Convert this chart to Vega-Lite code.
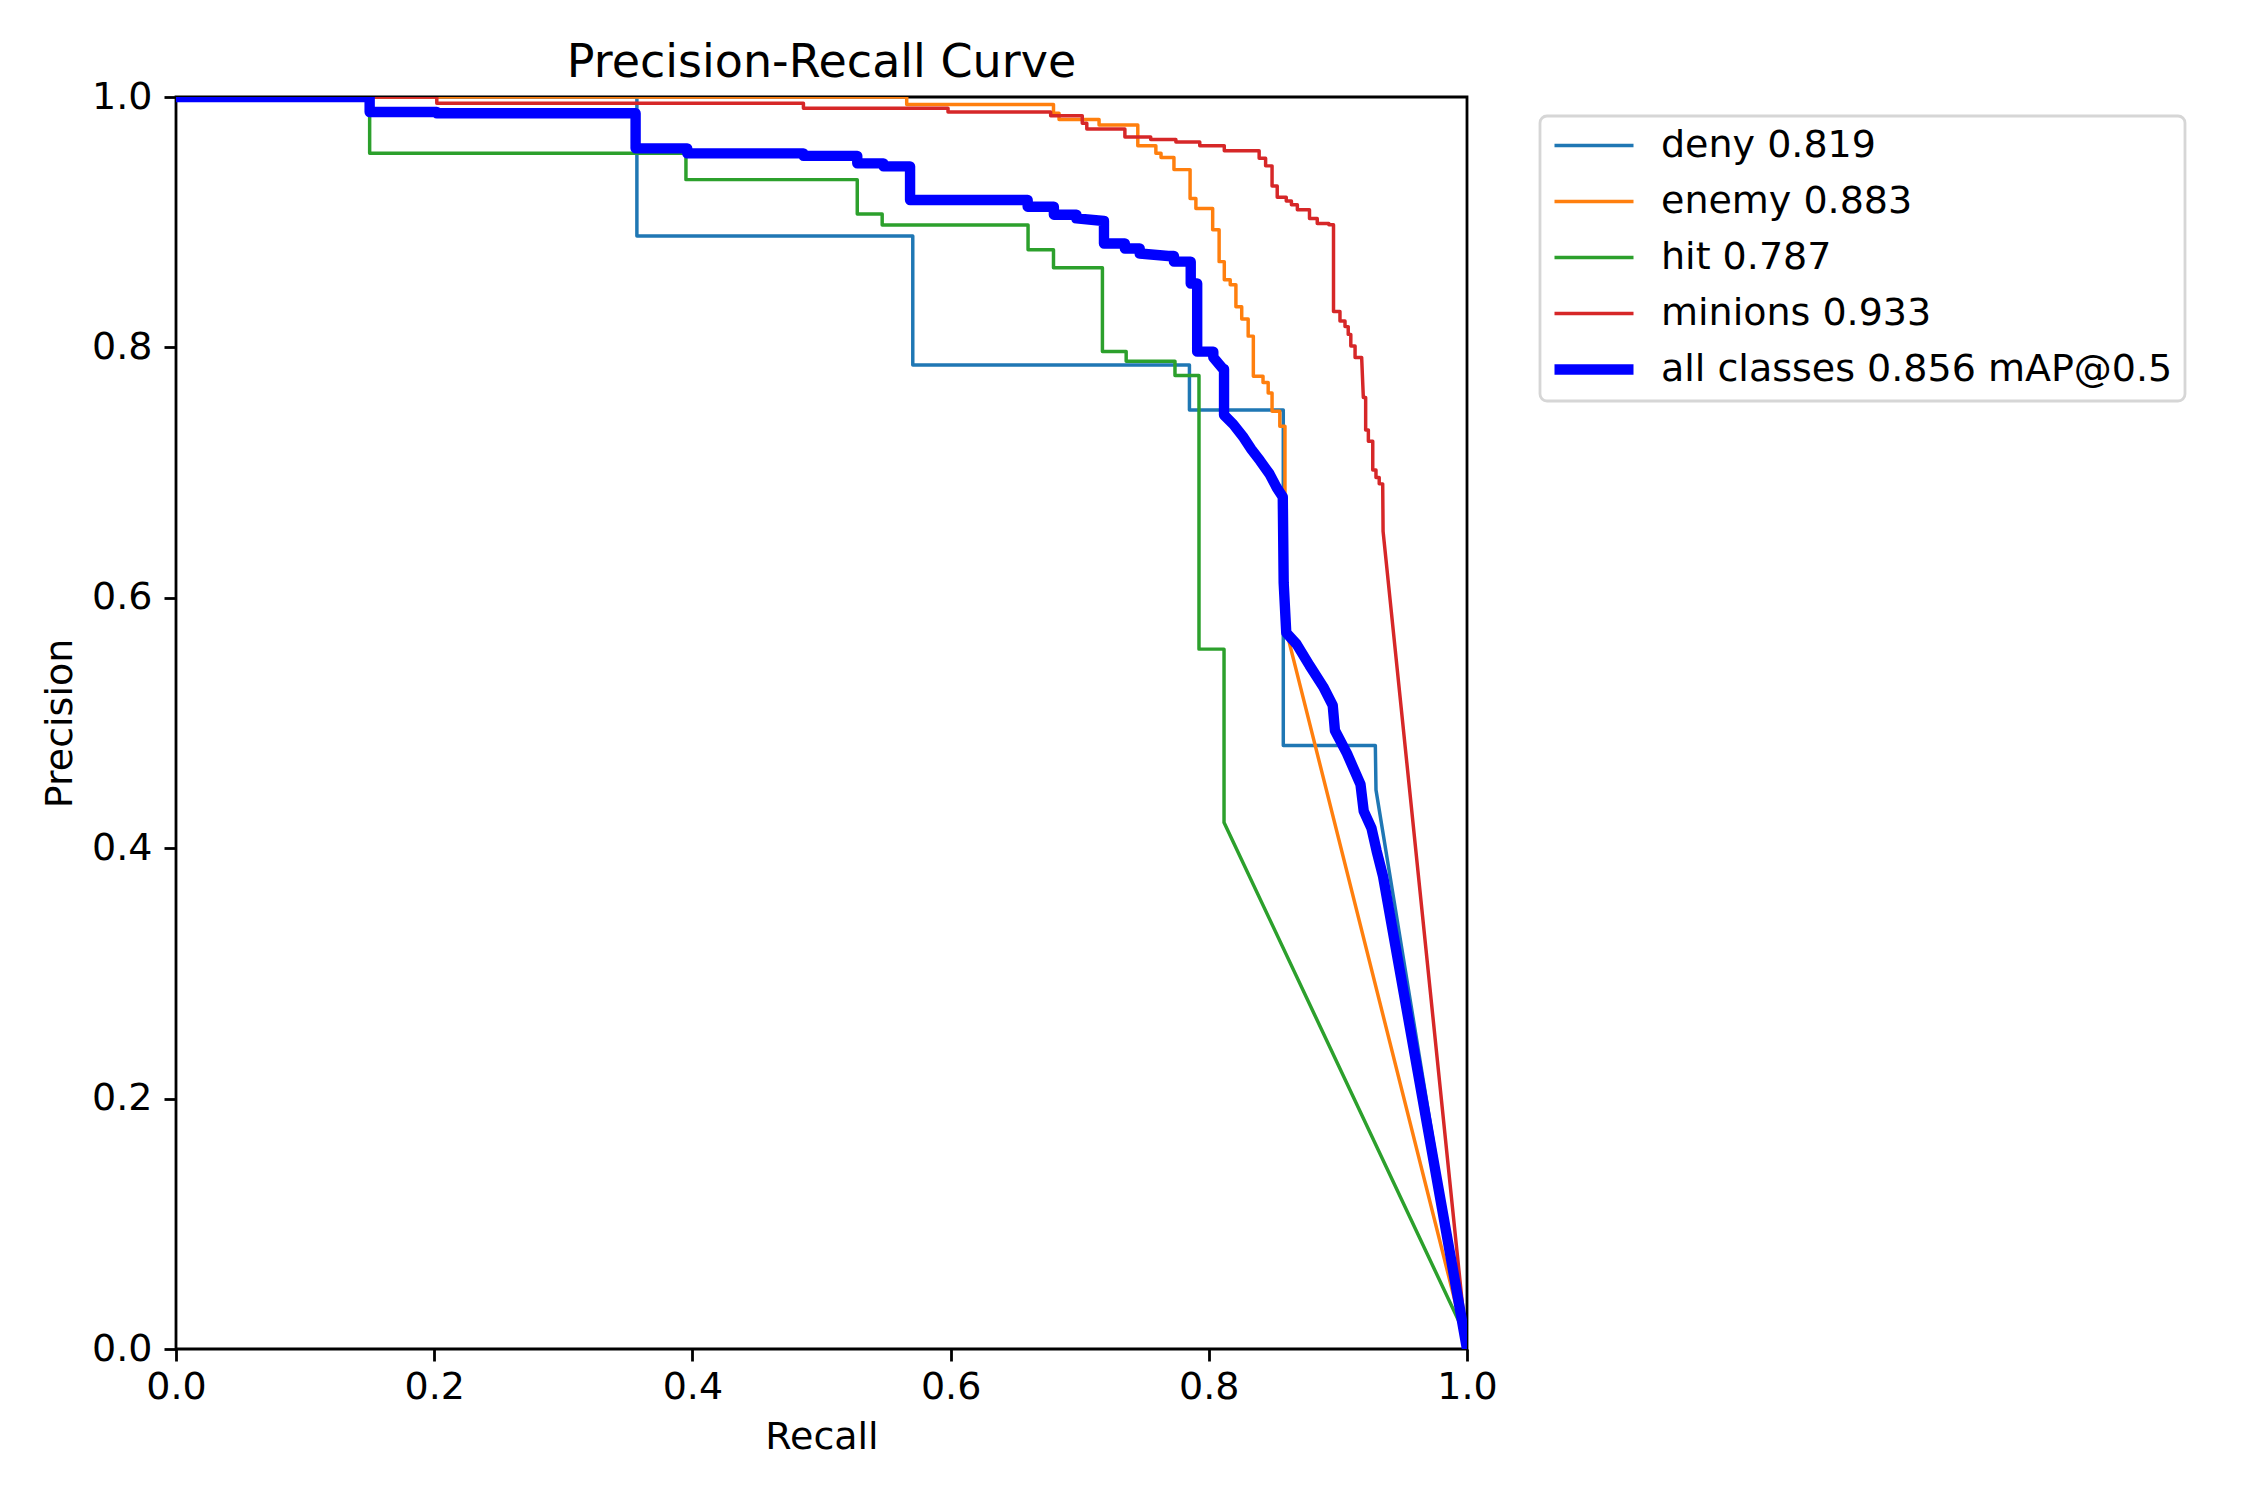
{
  "$schema": "https://vega.github.io/schema/vega-lite/v6.json",
  "width": 1291,
  "height": 1252,
  "autosize": {"type": "none"},
  "padding": {"left": 176, "top": 97, "right": 783, "bottom": 151},
  "background": "white",
  "title": {"text": "Precision-Recall Curve", "fontSize": 46, "font": "DejaVu Sans", "fontWeight": "normal", "color": "black", "anchor": "middle", "baseline": "alphabetic", "offset": 21, "dy": 66},
  "config": {
    "font": "DejaVu Sans",
    "view": {"stroke": "black", "strokeWidth": 2.8},
    "axis": {"grid": false, "domain": false, "tickColor": "black", "tickWidth": 2.8, "tickSize": 12, "labelFontSize": 38, "labelFont": "DejaVu Sans", "labelColor": "black", "labelPadding": 12, "titleFontSize": 38, "titleFont": "DejaVu Sans", "titleFontWeight": "normal", "titleColor": "black", "labelFlush": false, "labelOverlap": false}
  },
  "data": {"values": [
    {"c": "deny 0.819", "i": 0, "r": 0, "p": 1},
    {"c": "deny 0.819", "i": 1, "r": 0.357, "p": 1},
    {"c": "deny 0.819", "i": 2, "r": 0.357, "p": 0.889},
    {"c": "deny 0.819", "i": 3, "r": 0.5707, "p": 0.889},
    {"c": "deny 0.819", "i": 4, "r": 0.5707, "p": 0.786},
    {"c": "deny 0.819", "i": 5, "r": 0.785, "p": 0.786},
    {"c": "deny 0.819", "i": 6, "r": 0.785, "p": 0.75},
    {"c": "deny 0.819", "i": 7, "r": 0.8577, "p": 0.75},
    {"c": "deny 0.819", "i": 8, "r": 0.8577, "p": 0.482},
    {"c": "deny 0.819", "i": 9, "r": 0.929, "p": 0.482},
    {"c": "deny 0.819", "i": 10, "r": 0.9295, "p": 0.4466},
    {"c": "deny 0.819", "i": 11, "r": 1, "p": 0},

    {"c": "enemy 0.883", "i": 0, "r": 0, "p": 1},
    {"c": "enemy 0.883", "i": 1, "r": 0.566, "p": 1},
    {"c": "enemy 0.883", "i": 2, "r": 0.566, "p": 0.994},
    {"c": "enemy 0.883", "i": 3, "r": 0.6797, "p": 0.994},
    {"c": "enemy 0.883", "i": 4, "r": 0.6797, "p": 0.987},
    {"c": "enemy 0.883", "i": 5, "r": 0.684, "p": 0.987},
    {"c": "enemy 0.883", "i": 6, "r": 0.684, "p": 0.982},
    {"c": "enemy 0.883", "i": 7, "r": 0.715, "p": 0.982},
    {"c": "enemy 0.883", "i": 8, "r": 0.715, "p": 0.9776},
    {"c": "enemy 0.883", "i": 9, "r": 0.745, "p": 0.9776},
    {"c": "enemy 0.883", "i": 10, "r": 0.745, "p": 0.961},
    {"c": "enemy 0.883", "i": 11, "r": 0.759, "p": 0.961},
    {"c": "enemy 0.883", "i": 12, "r": 0.759, "p": 0.955},
    {"c": "enemy 0.883", "i": 13, "r": 0.763, "p": 0.955},
    {"c": "enemy 0.883", "i": 14, "r": 0.763, "p": 0.9516},
    {"c": "enemy 0.883", "i": 15, "r": 0.773, "p": 0.9516},
    {"c": "enemy 0.883", "i": 16, "r": 0.773, "p": 0.942},
    {"c": "enemy 0.883", "i": 17, "r": 0.7855, "p": 0.942},
    {"c": "enemy 0.883", "i": 18, "r": 0.7855, "p": 0.919},
    {"c": "enemy 0.883", "i": 19, "r": 0.79, "p": 0.919},
    {"c": "enemy 0.883", "i": 20, "r": 0.79, "p": 0.911},
    {"c": "enemy 0.883", "i": 21, "r": 0.803, "p": 0.911},
    {"c": "enemy 0.883", "i": 22, "r": 0.803, "p": 0.894},
    {"c": "enemy 0.883", "i": 23, "r": 0.808, "p": 0.894},
    {"c": "enemy 0.883", "i": 24, "r": 0.808, "p": 0.8685},
    {"c": "enemy 0.883", "i": 25, "r": 0.812, "p": 0.8685},
    {"c": "enemy 0.883", "i": 26, "r": 0.812, "p": 0.854},
    {"c": "enemy 0.883", "i": 27, "r": 0.8166, "p": 0.854},
    {"c": "enemy 0.883", "i": 28, "r": 0.8166, "p": 0.85},
    {"c": "enemy 0.883", "i": 29, "r": 0.821, "p": 0.85},
    {"c": "enemy 0.883", "i": 30, "r": 0.821, "p": 0.8325},
    {"c": "enemy 0.883", "i": 31, "r": 0.8255, "p": 0.8325},
    {"c": "enemy 0.883", "i": 32, "r": 0.8255, "p": 0.8227},
    {"c": "enemy 0.883", "i": 33, "r": 0.8305, "p": 0.8227},
    {"c": "enemy 0.883", "i": 34, "r": 0.8305, "p": 0.809},
    {"c": "enemy 0.883", "i": 35, "r": 0.8345, "p": 0.809},
    {"c": "enemy 0.883", "i": 36, "r": 0.8345, "p": 0.777},
    {"c": "enemy 0.883", "i": 37, "r": 0.842, "p": 0.777},
    {"c": "enemy 0.883", "i": 38, "r": 0.842, "p": 0.772},
    {"c": "enemy 0.883", "i": 39, "r": 0.846, "p": 0.772},
    {"c": "enemy 0.883", "i": 40, "r": 0.846, "p": 0.7636},
    {"c": "enemy 0.883", "i": 41, "r": 0.849, "p": 0.7636},
    {"c": "enemy 0.883", "i": 42, "r": 0.849, "p": 0.749},
    {"c": "enemy 0.883", "i": 43, "r": 0.855, "p": 0.749},
    {"c": "enemy 0.883", "i": 44, "r": 0.855, "p": 0.737},
    {"c": "enemy 0.883", "i": 45, "r": 0.859, "p": 0.737},
    {"c": "enemy 0.883", "i": 46, "r": 0.859, "p": 0.578},
    {"c": "enemy 0.883", "i": 47, "r": 1, "p": 0},

    {"c": "hit 0.787", "i": 0, "r": 0, "p": 1},
    {"c": "hit 0.787", "i": 1, "r": 0.15, "p": 1},
    {"c": "hit 0.787", "i": 2, "r": 0.15, "p": 0.955},
    {"c": "hit 0.787", "i": 3, "r": 0.395, "p": 0.955},
    {"c": "hit 0.787", "i": 4, "r": 0.395, "p": 0.934},
    {"c": "hit 0.787", "i": 5, "r": 0.5277, "p": 0.934},
    {"c": "hit 0.787", "i": 6, "r": 0.5277, "p": 0.9065},
    {"c": "hit 0.787", "i": 7, "r": 0.547, "p": 0.9065},
    {"c": "hit 0.787", "i": 8, "r": 0.547, "p": 0.8978},
    {"c": "hit 0.787", "i": 9, "r": 0.66, "p": 0.8978},
    {"c": "hit 0.787", "i": 10, "r": 0.66, "p": 0.878},
    {"c": "hit 0.787", "i": 11, "r": 0.6797, "p": 0.878},
    {"c": "hit 0.787", "i": 12, "r": 0.6797, "p": 0.8637},
    {"c": "hit 0.787", "i": 13, "r": 0.7176, "p": 0.8637},
    {"c": "hit 0.787", "i": 14, "r": 0.7176, "p": 0.7968},
    {"c": "hit 0.787", "i": 15, "r": 0.736, "p": 0.7968},
    {"c": "hit 0.787", "i": 16, "r": 0.736, "p": 0.789},
    {"c": "hit 0.787", "i": 17, "r": 0.7738, "p": 0.789},
    {"c": "hit 0.787", "i": 18, "r": 0.7738, "p": 0.7776},
    {"c": "hit 0.787", "i": 19, "r": 0.7924, "p": 0.7776},
    {"c": "hit 0.787", "i": 20, "r": 0.7924, "p": 0.559},
    {"c": "hit 0.787", "i": 21, "r": 0.8118, "p": 0.559},
    {"c": "hit 0.787", "i": 22, "r": 0.8118, "p": 0.4206},
    {"c": "hit 0.787", "i": 23, "r": 0.999, "p": 0.0106},
    {"c": "hit 0.787", "i": 24, "r": 1, "p": 0},

    {"c": "minions 0.933", "i": 0, "r": 0, "p": 1},
    {"c": "minions 0.933", "i": 1, "r": 0.202, "p": 1},
    {"c": "minions 0.933", "i": 2, "r": 0.202, "p": 0.995},
    {"c": "minions 0.933", "i": 3, "r": 0.486, "p": 0.995},
    {"c": "minions 0.933", "i": 4, "r": 0.486, "p": 0.991},
    {"c": "minions 0.933", "i": 5, "r": 0.598, "p": 0.991},
    {"c": "minions 0.933", "i": 6, "r": 0.598, "p": 0.988},
    {"c": "minions 0.933", "i": 7, "r": 0.6775, "p": 0.988},
    {"c": "minions 0.933", "i": 8, "r": 0.6775, "p": 0.985},
    {"c": "minions 0.933", "i": 9, "r": 0.702, "p": 0.985},
    {"c": "minions 0.933", "i": 10, "r": 0.702, "p": 0.979},
    {"c": "minions 0.933", "i": 11, "r": 0.7055, "p": 0.979},
    {"c": "minions 0.933", "i": 12, "r": 0.7055, "p": 0.9745},
    {"c": "minions 0.933", "i": 13, "r": 0.735, "p": 0.9745},
    {"c": "minions 0.933", "i": 14, "r": 0.735, "p": 0.968},
    {"c": "minions 0.933", "i": 15, "r": 0.755, "p": 0.968},
    {"c": "minions 0.933", "i": 16, "r": 0.755, "p": 0.966},
    {"c": "minions 0.933", "i": 17, "r": 0.7745, "p": 0.966},
    {"c": "minions 0.933", "i": 18, "r": 0.7745, "p": 0.964},
    {"c": "minions 0.933", "i": 19, "r": 0.793, "p": 0.964},
    {"c": "minions 0.933", "i": 20, "r": 0.793, "p": 0.961},
    {"c": "minions 0.933", "i": 21, "r": 0.812, "p": 0.961},
    {"c": "minions 0.933", "i": 22, "r": 0.812, "p": 0.957},
    {"c": "minions 0.933", "i": 23, "r": 0.839, "p": 0.957},
    {"c": "minions 0.933", "i": 24, "r": 0.839, "p": 0.951},
    {"c": "minions 0.933", "i": 25, "r": 0.844, "p": 0.951},
    {"c": "minions 0.933", "i": 26, "r": 0.844, "p": 0.945},
    {"c": "minions 0.933", "i": 27, "r": 0.849, "p": 0.945},
    {"c": "minions 0.933", "i": 28, "r": 0.849, "p": 0.929},
    {"c": "minions 0.933", "i": 29, "r": 0.853, "p": 0.929},
    {"c": "minions 0.933", "i": 30, "r": 0.853, "p": 0.92},
    {"c": "minions 0.933", "i": 31, "r": 0.86, "p": 0.92},
    {"c": "minions 0.933", "i": 32, "r": 0.86, "p": 0.917},
    {"c": "minions 0.933", "i": 33, "r": 0.864, "p": 0.917},
    {"c": "minions 0.933", "i": 34, "r": 0.864, "p": 0.914},
    {"c": "minions 0.933", "i": 35, "r": 0.8686, "p": 0.914},
    {"c": "minions 0.933", "i": 36, "r": 0.8686, "p": 0.91},
    {"c": "minions 0.933", "i": 37, "r": 0.878, "p": 0.91},
    {"c": "minions 0.933", "i": 38, "r": 0.878, "p": 0.903},
    {"c": "minions 0.933", "i": 39, "r": 0.884, "p": 0.903},
    {"c": "minions 0.933", "i": 40, "r": 0.884, "p": 0.899},
    {"c": "minions 0.933", "i": 41, "r": 0.893, "p": 0.899},
    {"c": "minions 0.933", "i": 42, "r": 0.893, "p": 0.898},
    {"c": "minions 0.933", "i": 43, "r": 0.8966, "p": 0.898},
    {"c": "minions 0.933", "i": 44, "r": 0.8966, "p": 0.8287},
    {"c": "minions 0.933", "i": 45, "r": 0.9016, "p": 0.8287},
    {"c": "minions 0.933", "i": 46, "r": 0.9016, "p": 0.821},
    {"c": "minions 0.933", "i": 47, "r": 0.9055, "p": 0.821},
    {"c": "minions 0.933", "i": 48, "r": 0.9055, "p": 0.8166},
    {"c": "minions 0.933", "i": 49, "r": 0.908, "p": 0.8166},
    {"c": "minions 0.933", "i": 50, "r": 0.908, "p": 0.8104},
    {"c": "minions 0.933", "i": 51, "r": 0.91, "p": 0.8104},
    {"c": "minions 0.933", "i": 52, "r": 0.91, "p": 0.8012},
    {"c": "minions 0.933", "i": 53, "r": 0.9133, "p": 0.8012},
    {"c": "minions 0.933", "i": 54, "r": 0.9133, "p": 0.792},
    {"c": "minions 0.933", "i": 55, "r": 0.9184, "p": 0.792},
    {"c": "minions 0.933", "i": 56, "r": 0.9197, "p": 0.76},
    {"c": "minions 0.933", "i": 57, "r": 0.9215, "p": 0.76},
    {"c": "minions 0.933", "i": 58, "r": 0.9215, "p": 0.734},
    {"c": "minions 0.933", "i": 59, "r": 0.9236, "p": 0.734},
    {"c": "minions 0.933", "i": 60, "r": 0.9236, "p": 0.725},
    {"c": "minions 0.933", "i": 61, "r": 0.927, "p": 0.725},
    {"c": "minions 0.933", "i": 62, "r": 0.927, "p": 0.702},
    {"c": "minions 0.933", "i": 63, "r": 0.9295, "p": 0.702},
    {"c": "minions 0.933", "i": 64, "r": 0.9295, "p": 0.696},
    {"c": "minions 0.933", "i": 65, "r": 0.932, "p": 0.696},
    {"c": "minions 0.933", "i": 66, "r": 0.932, "p": 0.691},
    {"c": "minions 0.933", "i": 67, "r": 0.9347, "p": 0.691},
    {"c": "minions 0.933", "i": 68, "r": 0.935, "p": 0.653},
    {"c": "minions 0.933", "i": 69, "r": 1, "p": 0},

    {"c": "all classes 0.856 mAP@0.5", "i": 0, "r": 0, "p": 1},
    {"c": "all classes 0.856 mAP@0.5", "i": 1, "r": 0.15, "p": 1},
    {"c": "all classes 0.856 mAP@0.5", "i": 2, "r": 0.15, "p": 0.988},
    {"c": "all classes 0.856 mAP@0.5", "i": 3, "r": 0.202, "p": 0.988},
    {"c": "all classes 0.856 mAP@0.5", "i": 4, "r": 0.202, "p": 0.987},
    {"c": "all classes 0.856 mAP@0.5", "i": 5, "r": 0.356, "p": 0.987},
    {"c": "all classes 0.856 mAP@0.5", "i": 6, "r": 0.356, "p": 0.959},
    {"c": "all classes 0.856 mAP@0.5", "i": 7, "r": 0.396, "p": 0.959},
    {"c": "all classes 0.856 mAP@0.5", "i": 8, "r": 0.396, "p": 0.955},
    {"c": "all classes 0.856 mAP@0.5", "i": 9, "r": 0.486, "p": 0.955},
    {"c": "all classes 0.856 mAP@0.5", "i": 10, "r": 0.486, "p": 0.953},
    {"c": "all classes 0.856 mAP@0.5", "i": 11, "r": 0.5277, "p": 0.953},
    {"c": "all classes 0.856 mAP@0.5", "i": 12, "r": 0.5277, "p": 0.947},
    {"c": "all classes 0.856 mAP@0.5", "i": 13, "r": 0.548, "p": 0.947},
    {"c": "all classes 0.856 mAP@0.5", "i": 14, "r": 0.548, "p": 0.9446},
    {"c": "all classes 0.856 mAP@0.5", "i": 15, "r": 0.5686, "p": 0.9446},
    {"c": "all classes 0.856 mAP@0.5", "i": 16, "r": 0.5686, "p": 0.9177},
    {"c": "all classes 0.856 mAP@0.5", "i": 17, "r": 0.6597, "p": 0.9177},
    {"c": "all classes 0.856 mAP@0.5", "i": 18, "r": 0.6597, "p": 0.9124},
    {"c": "all classes 0.856 mAP@0.5", "i": 19, "r": 0.68, "p": 0.9124},
    {"c": "all classes 0.856 mAP@0.5", "i": 20, "r": 0.68, "p": 0.906},
    {"c": "all classes 0.856 mAP@0.5", "i": 21, "r": 0.6975, "p": 0.906},
    {"c": "all classes 0.856 mAP@0.5", "i": 22, "r": 0.6975, "p": 0.903},
    {"c": "all classes 0.856 mAP@0.5", "i": 23, "r": 0.7188, "p": 0.901},
    {"c": "all classes 0.856 mAP@0.5", "i": 24, "r": 0.7188, "p": 0.883},
    {"c": "all classes 0.856 mAP@0.5", "i": 25, "r": 0.735, "p": 0.883},
    {"c": "all classes 0.856 mAP@0.5", "i": 26, "r": 0.735, "p": 0.879},
    {"c": "all classes 0.856 mAP@0.5", "i": 27, "r": 0.7465, "p": 0.879},
    {"c": "all classes 0.856 mAP@0.5", "i": 28, "r": 0.7465, "p": 0.875},
    {"c": "all classes 0.856 mAP@0.5", "i": 29, "r": 0.7686, "p": 0.873},
    {"c": "all classes 0.856 mAP@0.5", "i": 30, "r": 0.773, "p": 0.873},
    {"c": "all classes 0.856 mAP@0.5", "i": 31, "r": 0.773, "p": 0.8685},
    {"c": "all classes 0.856 mAP@0.5", "i": 32, "r": 0.786, "p": 0.8685},
    {"c": "all classes 0.856 mAP@0.5", "i": 33, "r": 0.786, "p": 0.851},
    {"c": "all classes 0.856 mAP@0.5", "i": 34, "r": 0.791, "p": 0.851},
    {"c": "all classes 0.856 mAP@0.5", "i": 35, "r": 0.791, "p": 0.7966},
    {"c": "all classes 0.856 mAP@0.5", "i": 36, "r": 0.8035, "p": 0.7966},
    {"c": "all classes 0.856 mAP@0.5", "i": 37, "r": 0.8035, "p": 0.792},
    {"c": "all classes 0.856 mAP@0.5", "i": 38, "r": 0.811, "p": 0.7828},
    {"c": "all classes 0.856 mAP@0.5", "i": 39, "r": 0.8118, "p": 0.7828},
    {"c": "all classes 0.856 mAP@0.5", "i": 40, "r": 0.8118, "p": 0.746},
    {"c": "all classes 0.856 mAP@0.5", "i": 41, "r": 0.819, "p": 0.7385},
    {"c": "all classes 0.856 mAP@0.5", "i": 42, "r": 0.827, "p": 0.728},
    {"c": "all classes 0.856 mAP@0.5", "i": 43, "r": 0.833, "p": 0.7186},
    {"c": "all classes 0.856 mAP@0.5", "i": 44, "r": 0.8397, "p": 0.7095},
    {"c": "all classes 0.856 mAP@0.5", "i": 45, "r": 0.847, "p": 0.699},
    {"c": "all classes 0.856 mAP@0.5", "i": 46, "r": 0.8526, "p": 0.688},
    {"c": "all classes 0.856 mAP@0.5", "i": 47, "r": 0.8573, "p": 0.6806},
    {"c": "all classes 0.856 mAP@0.5", "i": 48, "r": 0.858, "p": 0.612},
    {"c": "all classes 0.856 mAP@0.5", "i": 49, "r": 0.86, "p": 0.572},
    {"c": "all classes 0.856 mAP@0.5", "i": 50, "r": 0.868, "p": 0.563},
    {"c": "all classes 0.856 mAP@0.5", "i": 51, "r": 0.878, "p": 0.546},
    {"c": "all classes 0.856 mAP@0.5", "i": 52, "r": 0.8886, "p": 0.529},
    {"c": "all classes 0.856 mAP@0.5", "i": 53, "r": 0.896, "p": 0.514},
    {"c": "all classes 0.856 mAP@0.5", "i": 54, "r": 0.8977, "p": 0.494},
    {"c": "all classes 0.856 mAP@0.5", "i": 55, "r": 0.907, "p": 0.4757},
    {"c": "all classes 0.856 mAP@0.5", "i": 56, "r": 0.9175, "p": 0.451},
    {"c": "all classes 0.856 mAP@0.5", "i": 57, "r": 0.92, "p": 0.4297},
    {"c": "all classes 0.856 mAP@0.5", "i": 58, "r": 0.926, "p": 0.416},
    {"c": "all classes 0.856 mAP@0.5", "i": 59, "r": 0.93, "p": 0.3978},
    {"c": "all classes 0.856 mAP@0.5", "i": 60, "r": 0.935, "p": 0.3774},
    {"c": "all classes 0.856 mAP@0.5", "i": 61, "r": 1, "p": 0}
  ]},
  "encoding": {
    "x": {"field": "r", "type": "quantitative", "scale": {"domain": [0, 1], "nice": false, "zero": false}, "axis": {"title": "Recall", "values": [0, 0.2, 0.4, 0.6, 0.8, 1], "format": ".1f", "labelPadding": 7, "titlePadding": 12}},
    "y": {"field": "p", "type": "quantitative", "scale": {"domain": [0, 1], "nice": false, "zero": false}, "axis": {"title": "Precision", "values": [0, 0.2, 0.4, 0.6, 0.8, 1], "format": ".1f", "titlePadding": 12}},
    "color": {"field": "c", "type": "nominal",
      "scale": {"domain": ["deny 0.819", "enemy 0.883", "hit 0.787", "minions 0.933", "all classes 0.856 mAP@0.5"], "range": ["#1f77b4", "#ff7f0e", "#2ca02c", "#d62728", "#0000ff"]},
      "legend": {"title": null, "orient": "none", "legendX": 1364, "legendY": 19, "symbolType": "stroke", "symbolSize": 6241, "symbolOffset": 23, "symbolStrokeWidth": 3.47, "clipHeight": 35, "rowPadding": 17, "padding": 12, "labelFontSize": 38, "labelFont": "DejaVu Sans", "labelColor": "black", "labelOffset": 48, "labelLimit": 1000, "strokeColor": "#d6d6d6", "fillColor": "white", "cornerRadius": 7,
        "encode": {
          "legend": {"update": {"strokeWidth": {"value": 2.8}}},
          "symbols": {"update": {"strokeWidth": {"signal": "datum.value === 'all classes 0.856 mAP@0.5' ? 10.4 : 3.47"}}}
        }}
    },
    "order": {"field": "i", "type": "quantitative"}
  },
  "layer": [
    {"transform": [{"filter": "datum.c !== 'all classes 0.856 mAP@0.5'"}], "mark": {"type": "line", "strokeWidth": 3.47, "strokeJoin": "round", "clip": true}},
    {"transform": [{"filter": "datum.c === 'all classes 0.856 mAP@0.5'"}], "mark": {"type": "line", "strokeWidth": 10.4, "strokeJoin": "round", "clip": true}}
  ]
}
